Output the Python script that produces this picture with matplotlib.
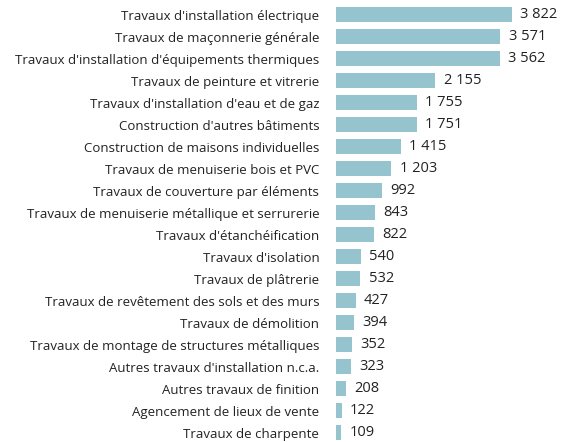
import matplotlib.pyplot as plt

categories = [
    "Travaux d'installation électrique",
    "Travaux de maçonnerie générale",
    "Travaux d'installation d'équipements thermiques",
    "Travaux de peinture et vitrerie",
    "Travaux d'installation d'eau et de gaz",
    "Construction d'autres bâtiments",
    "Construction de maisons individuelles",
    "Travaux de menuiserie bois et PVC",
    "Travaux de couverture par éléments",
    "Travaux de menuiserie métallique et serrurerie",
    "Travaux d'étanchéification",
    "Travaux d'isolation",
    "Travaux de plâtrerie",
    "Travaux de revêtement des sols et des murs",
    "Travaux de démolition",
    "Travaux de montage de structures métalliques",
    "Autres travaux d'installation n.c.a.",
    "Autres travaux de finition",
    "Agencement de lieux de vente",
    "Travaux de charpente",
]
values = [3822, 3571, 3562, 2155, 1755, 1751, 1415, 1203, 992, 843,
          822, 540, 532, 427, 394, 352, 323, 208, 122, 109]

plt.rcParams['font.family'] = ['Open Sans', 'DejaVu Sans']

fig = plt.figure(figsize=(5.62, 4.42), dpi=100)
ax = fig.add_axes([336 / 562, 0, 226 / 562, 1])

pos = list(range(len(values)))
ax.barh(pos, values, height=0.68, color='#95c3ce')

for p, v in zip(pos, values):
    txt = f"{v:,}".replace(",", " ")
    ax.annotate(txt, (v, p), xytext=(6, 0), textcoords='offset points',
                va='center', ha='left', fontsize=10.5, color='#222222')

ax.set_yticks(pos)
ax.set_yticklabels(categories, fontsize=9.5, color='#222222')
ax.tick_params(axis='y', length=0, pad=12)
ax.set_xticks([])
ax.set_xlim(0, 4908)
ax.set_ylim(19.41, -0.68)
for s in ax.spines.values():
    s.set_visible(False)

fig.savefig('out.png', dpi=100)
